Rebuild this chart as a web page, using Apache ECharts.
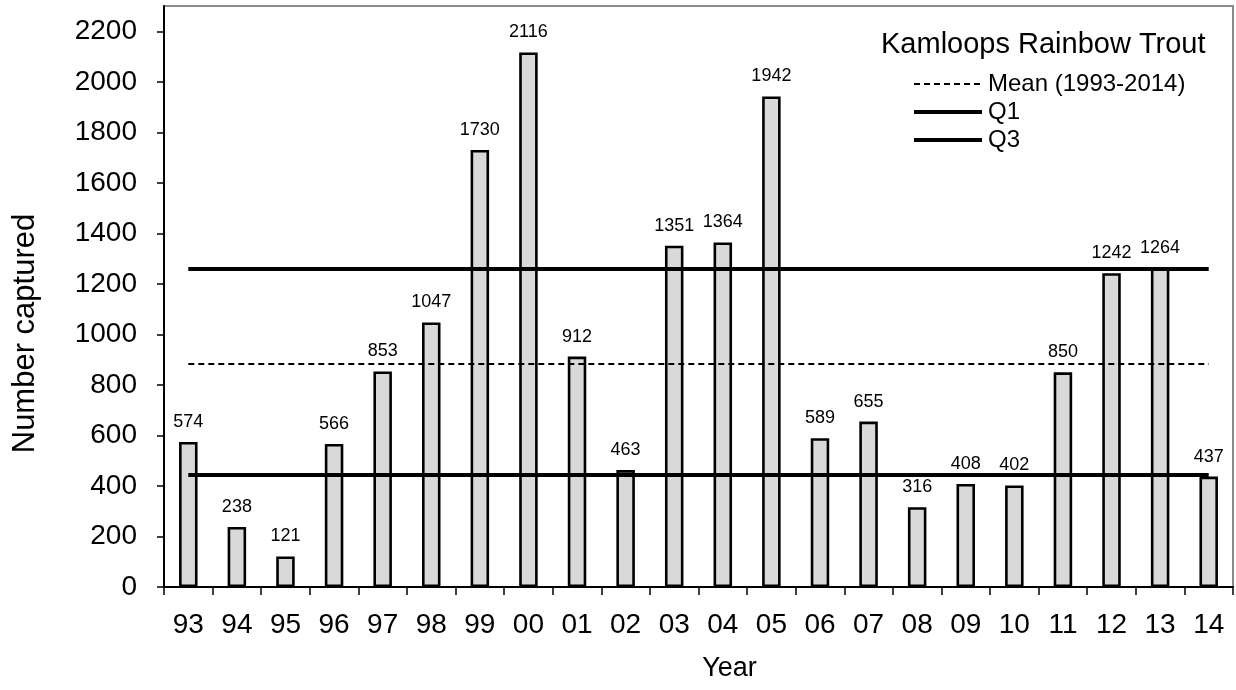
<!DOCTYPE html>
<html>
<head>
<meta charset="utf-8">
<script src="https://cdn.jsdelivr.net/npm/echarts@6/dist/echarts.min.js"></script>
<style>
html,body{margin:0;padding:0;background:#fff;}
#chart{width:1236px;height:690px;}
</style>
</head>
<body>
<div id="chart"></div>
<script>
const years = ['93','94','95','96','97','98','99','00','01','02','03','04','05','06','07','08','09','10','11','12','13','14'];
const captured = [574,238,121,566,853,1047,1730,2116,912,463,1351,1364,1942,589,655,316,408,402,850,1242,1264,437];
const meanValue = 884;
const q1Value = 443.5;
const q3Value = 1258.5;
const yTicks = [0,200,400,600,800,1000,1200,1400,1600,1800,2000,2200];

const FONT = '"Liberation Sans", Arial, sans-serif';
const chart = echarts.init(document.getElementById('chart'), null, {renderer:'canvas'});

function refLine(name, value, type, width) {
  return {
    name: name,
    type: 'line',
    data: [],
    symbol: 'none',
    lineStyle: {color:'#000', width: width, type: type},
    itemStyle: {color:'rgba(0,0,0,0)', borderWidth: 0},
    markLine: {
      silent: true,
      symbol: ['none','none'],
      label: {show:false},
      lineStyle: {color:'#000', width: width, type: type},
      data: [[{coord:[years[0], value]}, {coord:[years[years.length-1], value]}]]
    }
  };
}

chart.setOption({
  animation: false,
  textStyle: {fontFamily: FONT, color:'#000'},
  title: {
    text: 'Kamloops Rainbow Trout',
    left: 881, top: 30,
    textStyle: {fontFamily: FONT, fontSize: 29, fontWeight:'normal', color:'#000'},
    padding: 0
  },
  legend: {
    orient: 'vertical',
    left: 912, top: 72,
    itemWidth: 68, itemHeight: 22,
    itemGap: 4,
    padding: 0,
    itemStyle: {opacity: 0},
    textStyle: {fontFamily: FONT, fontSize: 24, color:'#000', padding:[0,0,0,1]},
    data: [
      {name:'Mean (1993-2014)', lineStyle:{width:2, type:[6,4], color:'#000'}},
      {name:'Q1', lineStyle:{width:4, color:'#000'}},
      {name:'Q3', lineStyle:{width:4, color:'#000'}}
    ]
  },
  grid: {
    left: 164, right: 3, top: 6, bottom: 103,
    show: true, borderColor: '#8c8c8c', borderWidth: 2, backgroundColor: 'transparent'
  },
  xAxis: {
    type: 'category',
    data: years,
    name: 'Year',
    nameLocation: 'middle',
    nameGap: 68,
    nameTextStyle: {fontFamily: FONT, fontSize: 27, color:'#000', padding:[0,0,0,62]},
    axisLine: {lineStyle: {color:'#000', width: 2}},
    axisTick: {show:true, length: 8, lineStyle:{color:'#000', width:1.5}},
    axisLabel: {fontFamily: FONT, fontSize: 28, color:'#000', margin: 24}
  },
  yAxis: {
    type: 'value',
    min: 0, max: 2300,
    name: 'Number captured',
    nameLocation: 'middle',
    nameGap: 123,
    nameTextStyle: {fontFamily: FONT, fontSize: 31, color:'#000', padding:[0,74,0,0]},
    splitLine: {show:false},
    axisLine: {show:true, lineStyle: {color:'#000', width: 2}},
    axisTick: {show:true, length: 7, lineStyle:{color:'#000', width:1.5}, customValues: yTicks},
    axisLabel: {fontFamily: FONT, fontSize: 28, color:'#000', margin: 27, customValues: yTicks,
      formatter: function (v) { return String(v); }}
  },
  series: [
    {
      name: 'Captured',
      type: 'bar',
      data: captured,
      barWidth: 18.5,
      itemStyle: {color:'#d9d9d9', borderColor:'#000', borderWidth: 2.6},
      label: {show:true, position:'top', distance: 11, fontFamily: FONT, fontSize: 18, color:'#000'},
      z: 2
    },
    refLine('Mean (1993-2014)', meanValue, [6,4], 2),
    refLine('Q1', q1Value, 'solid', 4),
    refLine('Q3', q3Value, 'solid', 4)
  ]
});
</script>
</body>
</html>
